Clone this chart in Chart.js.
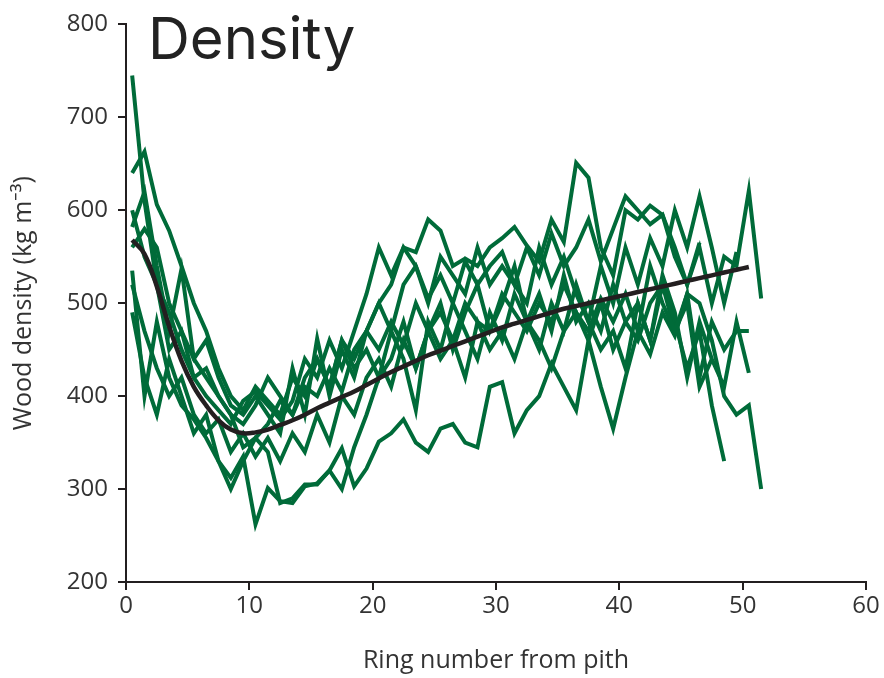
<!DOCTYPE html>
<html><head><meta charset="utf-8">
<script src="https://cdn.jsdelivr.net/npm/chart.js@4.4.1/dist/chart.umd.min.js"></script>
<style>html,body{margin:0;padding:0;background:#fff}#wrap{width:884px;height:678px;position:relative}</style>
</head><body><div id="wrap"><canvas id="c" width="884" height="678"></canvas></div>
<script>
const chartTitle = "Density";
const xTitle = "Ring number from pith";
const yTitle = "Wood density (kg m\u207B\u00B3)";
const xTicks = [0, 10, 20, 30, 40, 50, 60];
const yTicks = [200, 300, 400, 500, 600, 700, 800];
const rings = [0.5,1.5,2.5,3.5,4.5,5.5,6.5,7.5,8.5,9.5,10.5,11.5,12.5,13.5,14.5,15.5,16.5,17.5,18.5,19.5,20.5,21.5,22.5,23.5,24.5,25.5,26.5,27.5,28.5,29.5,30.5,31.5,32.5,33.5,34.5,35.5,36.5,37.5,38.5,39.5,40.5,41.5,42.5,43.5,44.5,45.5,46.5,47.5,48.5,49.5,50.5,51.5];

const meanDensity = [568,553,518,475,438,410,390,374,364,360,361,364,369,374,380,387,393,399,405,412,419,426,432,438,444,449,454,459,464,469,474,478,482,486,490,494,497,500,503,506,509,512,515,518,521,524,527,530,533,536,539];

const tree1 = [745,610,520,450,470,420,400,385,370,395, 405,390,375,395,440,420,460,430,470,510, 560,530,560,555,590,578,540,548,540,560, 570,582,562,545,590,566,651,635,560,530, 600,590,605,595,560,520,565];
const tree2 = [640,663,606,578,540,500,470,430,400,385, 410,395,380,420,400,440,410,460,440,470, 450,480,455,500,470,490,460,500,480,470, 510,490,470,500,480,520,490,470,505,480, 510,470,540,500,470,510,420,480,450,470,470];
const tree3 = [582,620,540,470,537,440,420,400,380,345, 355,370,395,380,410,400,430,405,450,470, 500,470,520,540,505,530,500,545,520,540, 555,520,560,530,575,540,560,590,545,580, 615,600,585,595,550,520,560,500,550,540,621,505];
const tree4 = [535,400,480,420,390,375,355,330,312,335, 262,301,287,285,303,306,320,344,303,322, 351,360,375,350,340,365,370,350,345,410, 415,360,385,400,435,410,385,460,410,365, 420,470,445,490,465,510,500,460,400,380,390,300];
const tree5 = [490,420,380,440,400,360,380,330,300,330, 355,340,285,290,305,305,320,300,345,380, 420,440,480,430,470,500,450,490,520,470, 500,540,480,510,470,530,480,500,470,520, 480,500,460,530,490,420,480,440,410,480,425];
const tree6 = [560,580,560,500,470,440,460,420,390,380, 400,380,360,430,380,462,400,450,420,470, 500,520,560,540,500,550,530,510,560,520, 540,520,500,560,520,550,510,480,540,500, 560,520,570,540,600,560,615,560,500,555];
const tree7 = [520,470,430,400,420,380,360,375,340,360, 335,355,330,360,340,380,350,400,380,420, 440,410,460,430,470,440,460,420,480,450, 470,440,480,460,430,470,490,460,500,450, 480,460,500,520,480,430,470,390,330];
const tree8 = [600,550,520,490,450,420,430,400,380,370, 390,420,400,380,420,440,410,460,430,450, 420,470,440,385,480,450,500,470,440,490, 460,510,480,450,500,470,520,480,450,470, 430,500,460,520,470,500,410,440];

const trees = [tree1, tree2, tree3, tree4, tree5, tree6, tree7, tree8];
const GREEN = '#006b39';
const INK = '#231f20';
const toPts = arr => arr.map((v, i) => ({x: rings[i], y: v}));

const datasets = [{
  label: 'Mean', data: toPts(meanDensity), borderColor: INK, borderWidth: 4.5,
  pointRadius: 0, tension: 0.4, order: 0, fill: false
}];
trees.forEach((t, k) => datasets.push({
  label: 'Tree ' + (k + 1), data: toPts(t), borderColor: GREEN, borderWidth: 4,
  pointRadius: 0, tension: 0, order: 1, fill: false, borderJoinStyle: 'miter'
}));

const titlePlugin = {
  id: 'innerTitle',
  afterDraw(chart) {
    const ctx = chart.ctx;
    ctx.save();
    ctx.font = '400 58px Inter, Roboto, "Noto Sans", sans-serif';
    ctx.fillStyle = '#222222';
    ctx.textBaseline = 'alphabetic';
    ctx.textAlign = 'left';
    ctx.fillText(chartTitle, chart.chartArea.left + 22, 59);
    ctx.restore();
  }
};

const tickFont = {family: '"Open Sans", "Noto Sans", sans-serif', size: 24};
const titleFont = {family: '"Open Sans", "Noto Sans", sans-serif', size: 25};

new Chart(document.getElementById('c'), {
  type: 'line',
  data: {datasets},
  plugins: [titlePlugin],
  options: {
    responsive: false, animation: false, devicePixelRatio: 1,
    layout: {padding: {top: 18, right: 18, left: 0, bottom: 0}},
    plugins: {legend: {display: false}, tooltip: {enabled: false}, title: {display: false}},
    scales: {
      x: {
        type: 'linear', min: 0, max: 60,
        afterBuildTicks: s => { s.ticks = xTicks.map(v => ({value: v})); },
        afterFit: s => { s.height = 96; },
        grid: {drawOnChartArea: false, drawTicks: true, tickLength: 8, color: INK, lineWidth: 2},
        border: {display: true, color: INK, width: 2},
        ticks: {color: '#333333', font: tickFont, padding: 2, maxRotation: 0},
        title: {display: true, text: xTitle, color: '#333333', font: titleFont, padding: {top: 0, bottom: 2}}
      },
      y: {
        type: 'linear', min: 200, max: 800,
        afterBuildTicks: s => { s.ticks = yTicks.map(v => ({value: v})); },
        afterFit: s => { s.width = 126; },
        grid: {drawOnChartArea: false, drawTicks: true, tickLength: 8, color: INK, lineWidth: 2},
        border: {display: true, color: INK, width: 2},
        ticks: {color: '#333333', font: tickFont, padding: 10},
        title: {display: true, text: yTitle, color: '#333333', font: titleFont, padding: {top: 9, bottom: 0}}
      }
    }
  }
});
</script></body></html>
